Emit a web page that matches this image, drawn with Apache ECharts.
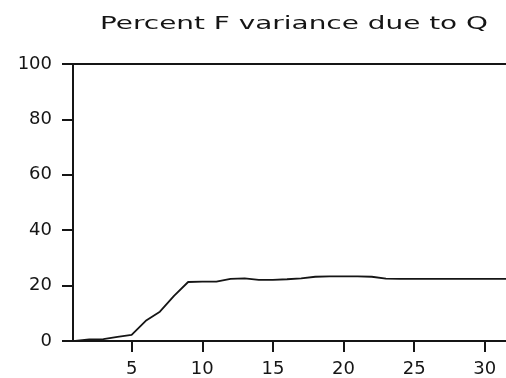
<!DOCTYPE html>
<html>
<head>
<meta charset="utf-8">
<script src="https://cdn.jsdelivr.net/npm/echarts@6/dist/echarts.min.js"></script>
<style>
  html, body { margin: 0; padding: 0; background: #fff; }
  #chart { width: 506px; height: 378px; }
</style>
</head>
<body>
<div id="chart"></div>
<script>
// Forecast horizon (periods) and share of F's forecast-error variance due to Q (%)
var horizons = [1, 2, 3, 4, 5, 6, 7, 8, 9, 10, 11, 12, 13, 14, 15, 16,
                17, 18, 19, 20, 21, 22, 23, 24, 25, 26, 27, 28, 29, 30, 31, 32];
var percentF = [0.0, 0.6, 0.7, 1.5, 2.2, 7.3, 10.6, 16.3, 21.3, 21.4, 21.4, 22.4, 22.6, 22.1, 22.1, 22.3,
                22.6, 23.2, 23.3, 23.3, 23.3, 23.2, 22.5, 22.4, 22.4, 22.4, 22.4, 22.4, 22.4, 22.4, 22.4, 22.4];
var xTicks = [5, 10, 15, 20, 25, 30];
var yTicks = [0, 20, 40, 60, 80, 100];
var titleText = 'Percent F variance due to Q';

var FONT = 'DejaVu Sans';
var INK = '#151515';

var chart = echarts.init(document.getElementById('chart'), null, { renderer: 'canvas' });

var points = horizons.map(function (h, i) { return [h, percentF[i]]; });

chart.setOption({
  animation: false,
  backgroundColor: '#ffffff',
  grid: { left: 73, right: 0, top: 64, bottom: 35.5, containLabel: false },
  // wide, stretched heading above the plot
  graphic: [{
    type: 'text',
    x: 294,
    y: 24,
    scaleX: 1.55,
    style: {
      text: titleText,
      fontFamily: FONT,
      fontSize: 18,
      fill: INK,
      textAlign: 'center',
      textVerticalAlign: 'middle'
    }
  }],
  xAxis: [{
    type: 'value',
    min: 0.85,
    max: 31.5,
    position: 'bottom',
    splitLine: { show: false },
    axisLine: { show: true, lineStyle: { color: INK, width: 2 } },
    axisTick: { show: true, length: 11, inside: false, customValues: xTicks,
                lineStyle: { color: INK, width: 2 } },
    axisLabel: { show: true, margin: 19, customValues: xTicks,
                 fontFamily: FONT, fontSize: 18, color: INK }
  }, {
    // top edge of the frame
    type: 'value',
    min: 0.85,
    max: 31.5,
    position: 'top',
    splitLine: { show: false },
    axisLine: { show: true, lineStyle: { color: INK, width: 2 } },
    axisTick: { show: false },
    axisLabel: { show: false }
  }],
  yAxis: {
    type: 'value',
    min: yTicks[0],
    max: yTicks[yTicks.length - 1],
    interval: 20,
    splitLine: { show: false },
    axisLine: { show: true, lineStyle: { color: INK, width: 2 } },
    axisTick: { show: true, length: 11, inside: false, lineStyle: { color: INK, width: 2 } },
    axisLabel: { show: true, margin: 21, fontFamily: FONT, fontSize: 18, color: INK }
  },
  series: [{
    type: 'line',
    xAxisIndex: 0,
    data: points,
    showSymbol: false,
    symbol: 'none',
    clip: true,
    lineStyle: { color: INK, width: 1.8 }
  }]
});
</script>
</body>
</html>
